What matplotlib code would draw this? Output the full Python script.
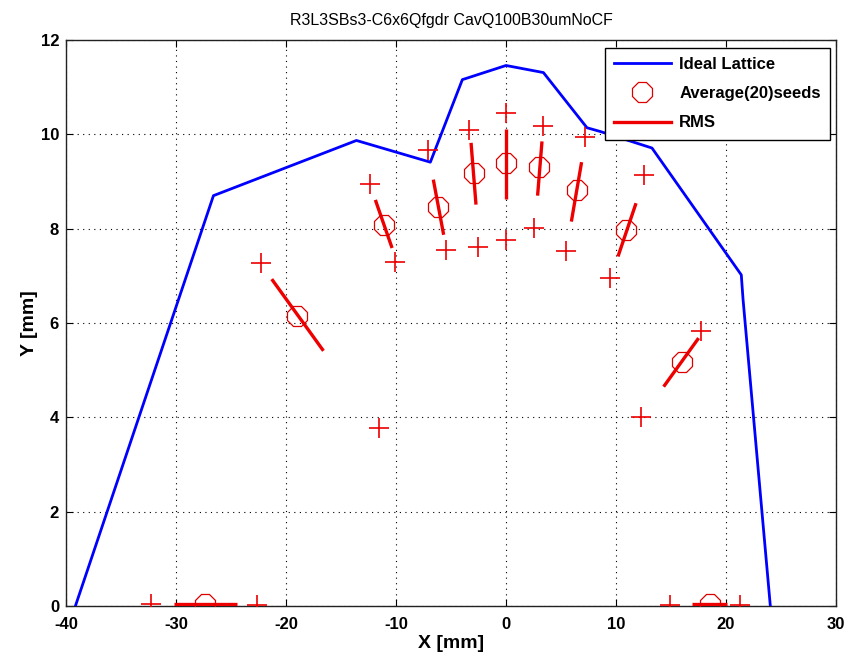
import matplotlib
matplotlib.use("Agg")
import matplotlib.pyplot as plt
from matplotlib.lines import Line2D

plt.rcParams['font.family'] = ['Liberation Sans', 'DejaVu Sans']
plt.rcParams['axes.unicode_minus'] = False

# Ideal lattice dynamic aperture boundary
lattice_x = [-39.15, -26.6, -13.6, -6.88, -3.97, 0.0, 3.4, 7.36, 8.57, 13.27, 21.39, 21.55, 24.03]
lattice_y = [0.0, 8.70, 9.87, 9.41, 11.16, 11.46, 11.31, 10.14, 10.06, 9.71, 7.02, 6.50, 0.0]

# Average over 20 seeds
avg_x = [-27.4, -19.0, -11.13, -6.15, -2.95, 0.0, 2.96, 6.45, 10.94, 16.0, 18.57]
avg_y = [0.04, 6.14, 8.08, 8.46, 9.18, 9.39, 9.31, 8.81, 7.98, 5.18, 0.04]

# RMS segments (start and end points)
rms_x0 = [-30.2, -21.3, -11.88, -6.61, -3.18, 0.0, 3.27, 6.87, 11.82, 17.51, 16.9]
rms_y0 = [0.05, 6.93, 8.61, 9.04, 9.82, 10.12, 9.85, 9.41, 8.54, 5.68, 0.05]
rms_x1 = [-24.5, -16.6, -10.36, -5.67, -2.73, 0.0, 2.87, 5.94, 10.18, 14.33, 20.09]
rms_y1 = [0.05, 5.41, 7.59, 7.87, 8.51, 8.63, 8.70, 8.15, 7.41, 4.65, 0.05]

# Individual seed extremes
seed_x = [-32.3, -22.6, -22.3, -12.34, -11.58, -10.06, -7.09, -5.45, -3.36, -2.58,
          0.0, 0.0, 3.36, 2.51, 7.21, 5.48, 12.57, 9.42, 17.73, 12.27, 14.94, 21.24]
seed_y = [0.05, 0.02, 7.27, 8.95, 3.78, 7.30, 9.66, 7.55, 10.10, 7.61,
          10.46, 7.77, 10.17, 8.01, 9.94, 7.52, 9.14, 6.95, 5.82, 4.00, 0.03, 0.03]

x_ticks = [-40, -30, -20, -10, 0, 10, 20, 30]
y_ticks = [0, 2, 4, 6, 8, 10, 12]

fig = plt.figure(figsize=(8.47, 6.67), dpi=100)
ax = fig.add_axes([0.078, 0.0915, 0.909, 0.8485])

ax.plot(lattice_x, lattice_y, color='#0000ff', lw=2.0, zorder=3)
for x0, y0, x1, y1 in zip(rms_x0, rms_y0, rms_x1, rms_y1):
    ax.plot([x0, x1], [y0, y1], color='#ee0000', lw=2.4, solid_capstyle='butt', zorder=4)
ax.plot(avg_x, avg_y, linestyle='none', marker='8', markersize=16, mfc='none',
        mec='#dd0000', mew=0.9, zorder=5)
ax.plot(seed_x, seed_y, linestyle='none', marker='+', markersize=15, color='#ee0000',
        mew=1.2, zorder=5)

ax.set_xlim(-40, 30)
ax.set_ylim(0, 12)
ax.set_xticks(x_ticks)
ax.set_yticks(y_ticks)
ax.grid(True, color='black', linestyle=(0, (1, 4)), lw=0.8)
ax.tick_params(direction='in', top=True, right=True, length=5, width=0.8, labelsize=12)
ax.tick_params(axis='x', pad=8)
ax.tick_params(axis='y', pad=5)
for lbl in ax.get_xticklabels() + ax.get_yticklabels():
    lbl.set_fontweight('bold')
for s in ax.spines.values():
    s.set_linewidth(1.0)
    s.set_color('#222222')

ax.set_xlabel('X [mm]', fontsize=14, fontweight='bold', labelpad=2)
ax.set_ylabel('Y [mm]', fontsize=14, fontweight='bold', labelpad=2)
ax.set_title('R3L3SBs3-C6x6Qfgdr CavQ100B30umNoCF', fontsize=11.5,
             family=['Liberation Sans Narrow', 'Liberation Sans', 'DejaVu Sans'], pad=11)

handles = [
    Line2D([], [], color='#0000ff', lw=2.0),
    Line2D([], [], linestyle='none', marker='8', markersize=16, mfc='none', mec='#dd0000', mew=0.9),
    Line2D([], [], color='#ee0000', lw=2.4),
]
leg = ax.legend(handles, ['Ideal Lattice', 'Average(20)seeds', 'RMS'], loc='upper right',
                bbox_to_anchor=(0.992, 0.986), fancybox=False, framealpha=1,
                edgecolor='black', handlelength=3.4, borderpad=0.55, labelspacing=0.85,
                handletextpad=0.5, borderaxespad=0.0, prop={'weight': 'bold', 'size': 12})
leg.get_frame().set_linewidth(1.0)

fig.savefig('out.png', dpi=100)
